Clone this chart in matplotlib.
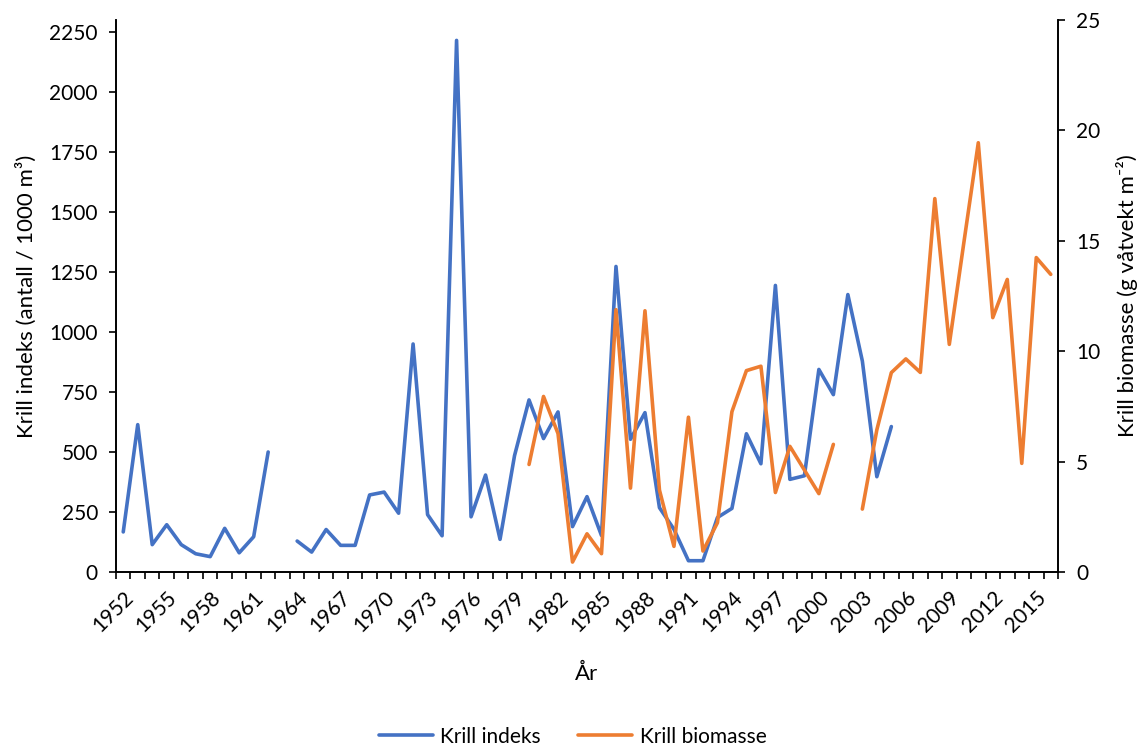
import numpy as np
import matplotlib
matplotlib.use("Agg")
import matplotlib.pyplot as plt
from matplotlib.ticker import FixedLocator, MultipleLocator

plt.rcParams['font.family'] = ['Lato', 'DejaVu Sans']

nan = np.nan

# data, 1952-2016
years = list(range(1952, 2017))

krill_indeks = [
    167, 614, 114, 197, 114, 76, 64, 182, 80, 147,      # 1952-1961
    500, nan, 129, 83, 177, 111, 111, 321, 333, 245,    # 1962-1971
    950, 239, 151, 2215, 230, 404, 136, 485, 717, 556,  # 1972-1981
    667, 189, 314, 152, 1273, 553, 664, 268, 178, 47,   # 1982-1991
    47, 227, 265, 576, 451, 1194, 386, 401, 844, 739,   # 1992-2001
    1156, 879, 397, 606, nan, nan, nan, nan, nan, nan,  # 2002-2011
    nan, nan, nan, nan, nan,                            # 2012-2016
]

krill_biomasse = [
    nan, nan, nan, nan, nan, nan, nan, nan, nan, nan,   # 1952-1961
    nan, nan, nan, nan, nan, nan, nan, nan, nan, nan,   # 1962-1971
    nan, nan, nan, nan, nan, nan, nan, nan, 4.87, 7.95, # 1972-1981
    6.27, 0.45, 1.73, 0.83, 11.88, 3.80, 11.83, 3.71, 1.16, 7.01,  # 1982-1991
    0.95, 2.23, 7.26, 9.12, 9.32, 3.60, 5.69, 4.62, 3.55, 5.78,    # 1992-2001
    nan, 2.85, 6.44, 9.03, 9.65, 9.04, 16.91, 10.31, 14.9, 19.44,  # 2002-2011
    11.52, 13.25, 4.92, 14.24, 13.48,                               # 2012-2016
]

blue = '#4472C4'
orange = '#ED7D31'

fig = plt.figure(figsize=(11.45, 7.49), dpi=100)
ax = fig.add_axes([116/1145, 1 - 572/749, (1058 - 116)/1145, (572 - 20)/749])
ax2 = ax.twinx()

x = np.arange(len(years))
l1, = ax.plot(x, krill_indeks, color=blue, lw=2.6, label='Krill indeks',
              solid_joinstyle='round', solid_capstyle='round')
l2, = ax2.plot(x, krill_biomasse, color=orange, lw=2.6, label='Krill biomasse',
               solid_joinstyle='round', solid_capstyle='round')

ax.set_xlim(-0.5, len(years) - 0.5)
ax.set_ylim(0, 2300)
ax2.set_ylim(0, 25)
ax.yaxis.set_major_locator(FixedLocator(np.arange(0, 2251, 250)))
ax2.yaxis.set_major_locator(MultipleLocator(5))

# category labels every third year, tick marks between categories
lab_pos = [i for i, y in enumerate(years) if (y - 1952) % 3 == 0]
ax.set_xticks(lab_pos)
ax.set_xticklabels([str(years[i]) for i in lab_pos], rotation=45,
                   ha='right', rotation_mode='anchor')
ax.set_xticks(np.arange(-0.5, len(years), 1.0), minor=True)
ax.tick_params(axis='x', which='major', length=0, pad=11)
ax.tick_params(axis='x', which='minor', length=5, width=1.2, direction='out')

ax.tick_params(axis='y', length=5, width=1.2, direction='out', pad=8)
ax2.tick_params(axis='y', length=5, width=1.2, direction='out', pad=8)
ax.tick_params(labelsize=15)
ax2.tick_params(labelsize=15)

for a in (ax, ax2):
    a.spines['top'].set_visible(False)
    for s in ('left', 'right', 'bottom'):
        a.spines[s].set_linewidth(1.2)
        a.spines[s].set_color('black')

ax.set_ylabel('Krill indeks (antall / 1000 m\u00b3)', fontsize=16, labelpad=9)
ax2.set_ylabel('Krill biomasse (g våtvekt m\u207b\u00b2)', fontsize=16, labelpad=11)
ax.set_xlabel('År', fontsize=16, labelpad=20)

fig.legend(handles=[l1, l2], loc='lower center', bbox_to_anchor=(0.5, -0.022),
           ncol=2, frameon=False, fontsize=15, handlelength=2.6,
           handletextpad=0.35, columnspacing=1.8)

fig.savefig('out.png', dpi=100)
